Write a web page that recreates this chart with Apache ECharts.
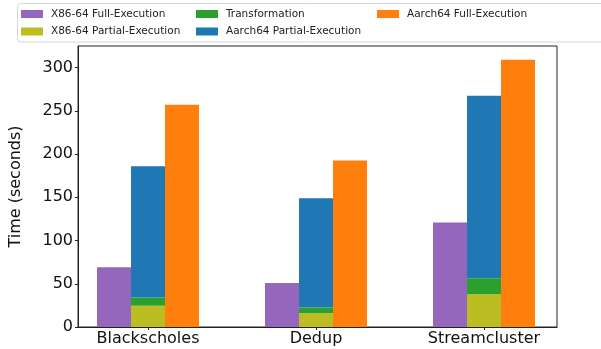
<!DOCTYPE html>
<html>
<head>
<meta charset="utf-8">
<script src="https://cdn.jsdelivr.net/npm/echarts@6/dist/echarts.min.js"></script>
<style>
  html, body { margin: 0; padding: 0; background: #fff; }
  #chart { width: 601px; height: 349px; }
</style>
</head>
<body>
<div id="chart"></div>
<script>
// Benchmarks
const categories = ['Blackscholes', 'Dedup', 'Streamcluster'];

// Execution times in seconds
const x86Full = [69, 51, 121];
const x86Partial = [24.5, 16, 38];
const transformation = [9.5, 6.5, 18.5];
const aarch64Partial = [152, 126.5, 211];
const aarch64Full = [257, 192.5, 309];

const yTicks = [0, 50, 100, 150, 200, 250, 300];
const yMax = 325;

const names = {
  x86Full: 'X86-64 Full-Execution',
  x86Partial: 'X86-64 Partial-Execution',
  transformation: 'Transformation',
  aarch64Partial: 'Aarch64 Partial-Execution',
  aarch64Full: 'Aarch64 Full-Execution'
};

const colors = {
  x86Full: '#9467bd',
  x86Partial: '#bcbd22',
  transformation: '#2ca02c',
  aarch64Partial: '#1f77b4',
  aarch64Full: '#ff7f0e'
};

const FONT = 'DejaVu Sans';
const INK = '#222';

// Bars live on grid 1 (category bands); grid 0 draws the framed axes box.
function barSeries(key, vals, stack) {
  return {
    type: 'bar',
    name: names[key],
    stack: stack,
    xAxisIndex: 1,
    yAxisIndex: 1,
    data: vals,
    barWidth: 34,
    barGap: '0%',
    itemStyle: { color: colors[key] },
    emphasis: { disabled: true }
  };
}

const legendBase = {
  orient: 'vertical',
  top: 8,
  padding: 0,
  itemWidth: 22,
  itemHeight: 8,
  itemGap: 5.5,
  icon: 'rect',
  selectedMode: false,
  textStyle: { fontFamily: FONT, fontSize: 10.5, color: '#222', lineHeight: 12, padding: [0, 0, 0, 3] }
};

const chart = echarts.init(document.getElementById('chart'), null, { renderer: 'canvas' });
chart.setOption({
  animation: false,
  backgroundColor: '#fff',
  grid: [
    { left: 76, top: 46, right: 44, bottom: 22, show: true, borderColor: INK, borderWidth: 1, backgroundColor: 'transparent' },
    { left: 64, top: 46, right: 33, bottom: 22 }
  ],
  graphic: [{
    type: 'rect',
    z: 0,
    shape: { x: 17.5, y: 3.5, width: 600, height: 38.5, r: 3 },
    style: { fill: 'rgba(255,255,255,0.8)', stroke: '#d6d6d6', lineWidth: 1 }
  }],
  legend: [
    Object.assign({}, legendBase, { left: 21, data: [names.x86Full, names.x86Partial] }),
    Object.assign({}, legendBase, { left: 196, data: [names.transformation, names.aarch64Partial] }),
    Object.assign({}, legendBase, { left: 377, data: [names.aarch64Full] })
  ],
  xAxis: [
    {
      gridIndex: 0,
      type: 'value',
      min: 0,
      max: 1,
      axisLine: { show: true, onZero: false, lineStyle: { color: INK, width: 1 } },
      axisTick: { show: false },
      axisLabel: { show: false },
      splitLine: { show: false }
    },
    {
      gridIndex: 1,
      type: 'category',
      data: categories,
      axisLine: { show: false },
      axisTick: { show: true, alignWithLabel: true, length: 3, lineStyle: { color: INK } },
      axisLabel: { fontFamily: FONT, fontSize: 16, color: '#111', margin: 4 },
      splitLine: { show: false }
    }
  ],
  yAxis: [
    {
      gridIndex: 0,
      type: 'value',
      min: 0,
      max: yMax,
      name: 'Time (seconds)',
      nameLocation: 'middle',
      nameGap: 54,
      nameTextStyle: { fontFamily: FONT, fontSize: 16, color: '#111' },
      axisLine: { show: true, onZero: false, lineStyle: { color: INK, width: 1 } },
      axisTick: { show: true, customValues: yTicks, length: 3, lineStyle: { color: INK } },
      axisLabel: { customValues: yTicks, fontFamily: FONT, fontSize: 16, color: '#111', margin: 5 },
      splitLine: { show: false }
    },
    {
      gridIndex: 1,
      type: 'value',
      min: 0,
      max: yMax,
      show: false,
      splitLine: { show: false }
    }
  ],
  series: [
    barSeries('x86Full', x86Full, 'a'),
    barSeries('x86Partial', x86Partial, 'b'),
    barSeries('transformation', transformation, 'b'),
    barSeries('aarch64Partial', aarch64Partial, 'b'),
    barSeries('aarch64Full', aarch64Full, 'c')
  ]
});
</script>
</body>
</html>
